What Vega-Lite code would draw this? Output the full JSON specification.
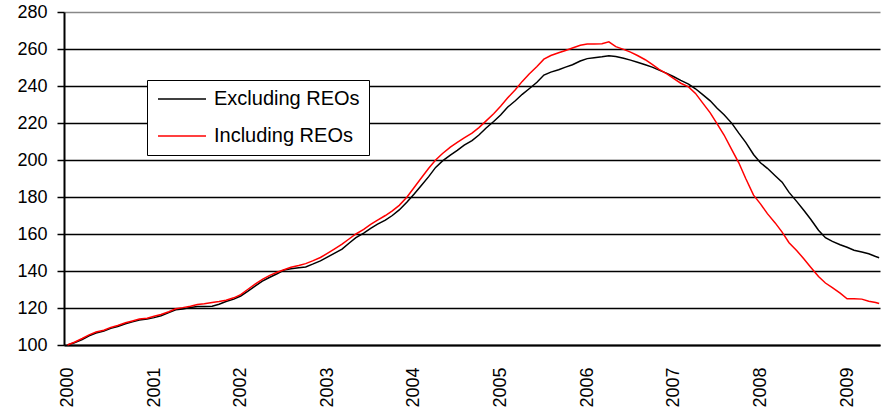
{
  "$schema": "https://vega.github.io/schema/vega-lite/v6.json",
  "width": 816,
  "height": 333,
  "autosize": {"type": "none"},
  "padding": {"left": 64, "top": 12, "right": 2, "bottom": 67},
  "background": "white",
  "config": {
    "view": {"stroke": null},
    "font": "Liberation Sans"
  },
  "data": {
    "values": [
      {"t": 2000.00, "ex": 100, "inc": 100},
      {"t": 2000.08, "ex": 101.2, "inc": 101.5},
      {"t": 2000.17, "ex": 103, "inc": 103.5},
      {"t": 2000.25, "ex": 105, "inc": 105.5},
      {"t": 2000.33, "ex": 106.5, "inc": 107},
      {"t": 2000.42, "ex": 107.5, "inc": 108},
      {"t": 2000.50, "ex": 109, "inc": 109.5},
      {"t": 2000.58, "ex": 110, "inc": 110.5},
      {"t": 2000.67, "ex": 111.5, "inc": 112},
      {"t": 2000.75, "ex": 112.5, "inc": 113},
      {"t": 2000.83, "ex": 113.5, "inc": 114},
      {"t": 2000.92, "ex": 114, "inc": 114.5},
      {"t": 2001.00, "ex": 114.8, "inc": 115.5},
      {"t": 2001.08, "ex": 115.8, "inc": 116.5},
      {"t": 2001.17, "ex": 117.5, "inc": 118},
      {"t": 2001.25, "ex": 119, "inc": 119.6},
      {"t": 2001.33, "ex": 119.5, "inc": 120.2},
      {"t": 2001.42, "ex": 120.3, "inc": 121},
      {"t": 2001.50, "ex": 120.8, "inc": 121.9},
      {"t": 2001.58, "ex": 120.8, "inc": 122.3},
      {"t": 2001.67, "ex": 121, "inc": 123},
      {"t": 2001.75, "ex": 122, "inc": 123.5},
      {"t": 2001.83, "ex": 123.5, "inc": 124.2},
      {"t": 2001.92, "ex": 124.8, "inc": 125.5},
      {"t": 2002.00, "ex": 126.5, "inc": 127.2},
      {"t": 2002.08, "ex": 129, "inc": 130},
      {"t": 2002.17, "ex": 132, "inc": 133},
      {"t": 2002.25, "ex": 134.5, "inc": 135.5},
      {"t": 2002.33, "ex": 136.5, "inc": 137.5},
      {"t": 2002.42, "ex": 138.5, "inc": 139.3},
      {"t": 2002.50, "ex": 140.5, "inc": 140.7},
      {"t": 2002.58, "ex": 141.2, "inc": 142},
      {"t": 2002.67, "ex": 141.7, "inc": 143},
      {"t": 2002.75, "ex": 142.2, "inc": 144},
      {"t": 2002.83, "ex": 143.7, "inc": 145.5},
      {"t": 2002.92, "ex": 145.5, "inc": 147.3},
      {"t": 2003.00, "ex": 147.5, "inc": 149.5},
      {"t": 2003.08, "ex": 149.5, "inc": 151.8},
      {"t": 2003.17, "ex": 151.8, "inc": 154.5},
      {"t": 2003.25, "ex": 155, "inc": 157.3},
      {"t": 2003.33, "ex": 158, "inc": 160},
      {"t": 2003.42, "ex": 160.5, "inc": 162.5},
      {"t": 2003.50, "ex": 163, "inc": 165.2},
      {"t": 2003.58, "ex": 165.3, "inc": 167.5},
      {"t": 2003.67, "ex": 167.5, "inc": 170},
      {"t": 2003.75, "ex": 170, "inc": 172.5},
      {"t": 2003.83, "ex": 173, "inc": 175.5},
      {"t": 2003.92, "ex": 177.3, "inc": 180},
      {"t": 2004.00, "ex": 181.5, "inc": 185},
      {"t": 2004.08, "ex": 186, "inc": 190},
      {"t": 2004.17, "ex": 191, "inc": 195.5},
      {"t": 2004.25, "ex": 196, "inc": 200},
      {"t": 2004.33, "ex": 199.5, "inc": 203.5},
      {"t": 2004.42, "ex": 202.6, "inc": 207},
      {"t": 2004.50, "ex": 205.2, "inc": 209.5},
      {"t": 2004.58, "ex": 208, "inc": 212},
      {"t": 2004.67, "ex": 210.5, "inc": 214.5},
      {"t": 2004.75, "ex": 213.5, "inc": 217.5},
      {"t": 2004.83, "ex": 217.2, "inc": 221},
      {"t": 2004.92, "ex": 220.8, "inc": 225},
      {"t": 2005.00, "ex": 224.3, "inc": 229},
      {"t": 2005.08, "ex": 228.5, "inc": 233.5},
      {"t": 2005.17, "ex": 232, "inc": 238},
      {"t": 2005.25, "ex": 235.5, "inc": 242.5},
      {"t": 2005.33, "ex": 238.5, "inc": 246.5},
      {"t": 2005.42, "ex": 242, "inc": 250.5},
      {"t": 2005.50, "ex": 245.9, "inc": 254.5},
      {"t": 2005.58, "ex": 247.5, "inc": 256.5},
      {"t": 2005.67, "ex": 248.8, "inc": 258},
      {"t": 2005.75, "ex": 250.2, "inc": 259.2},
      {"t": 2005.83, "ex": 251.5, "inc": 260.5},
      {"t": 2005.92, "ex": 253.5, "inc": 262},
      {"t": 2006.00, "ex": 254.8, "inc": 262.7},
      {"t": 2006.08, "ex": 255.3, "inc": 262.7},
      {"t": 2006.17, "ex": 255.8, "inc": 262.8},
      {"t": 2006.25, "ex": 256.4, "inc": 263.9},
      {"t": 2006.33, "ex": 255.9, "inc": 261.3},
      {"t": 2006.42, "ex": 255, "inc": 259.8},
      {"t": 2006.50, "ex": 254, "inc": 258.3},
      {"t": 2006.58, "ex": 252.8, "inc": 256.5},
      {"t": 2006.67, "ex": 251.5, "inc": 254.2},
      {"t": 2006.75, "ex": 250.2, "inc": 251.7},
      {"t": 2006.83, "ex": 248.6, "inc": 249},
      {"t": 2006.92, "ex": 246.8, "inc": 246.5},
      {"t": 2007.00, "ex": 245, "inc": 244},
      {"t": 2007.08, "ex": 243, "inc": 241.5},
      {"t": 2007.17, "ex": 241, "inc": 239.5},
      {"t": 2007.25, "ex": 238.5, "inc": 236},
      {"t": 2007.33, "ex": 235.5, "inc": 231},
      {"t": 2007.42, "ex": 232, "inc": 225.5},
      {"t": 2007.50, "ex": 228, "inc": 219.5},
      {"t": 2007.58, "ex": 224.5, "inc": 213.5},
      {"t": 2007.67, "ex": 219.8, "inc": 205.5},
      {"t": 2007.75, "ex": 214.5, "inc": 198.5},
      {"t": 2007.83, "ex": 209.5, "inc": 190},
      {"t": 2007.92, "ex": 203, "inc": 181},
      {"t": 2008.00, "ex": 198.5, "inc": 176.3},
      {"t": 2008.08, "ex": 195.5, "inc": 171},
      {"t": 2008.17, "ex": 191.5, "inc": 166},
      {"t": 2008.25, "ex": 188, "inc": 161},
      {"t": 2008.33, "ex": 182.5, "inc": 155.3},
      {"t": 2008.42, "ex": 177.5, "inc": 151},
      {"t": 2008.50, "ex": 172.8, "inc": 146.6},
      {"t": 2008.58, "ex": 168, "inc": 142},
      {"t": 2008.67, "ex": 162, "inc": 137},
      {"t": 2008.75, "ex": 158, "inc": 133.5},
      {"t": 2008.83, "ex": 156, "inc": 131},
      {"t": 2008.92, "ex": 154.2, "inc": 128},
      {"t": 2009.00, "ex": 152.8, "inc": 125},
      {"t": 2009.08, "ex": 151.2, "inc": 125},
      {"t": 2009.17, "ex": 150.3, "inc": 124.8},
      {"t": 2009.25, "ex": 149.3, "inc": 123.7},
      {"t": 2009.33, "ex": 147.8, "inc": 123},
      {"t": 2009.37, "ex": 147.2, "inc": 122.4}
    ]
  },
  "transform": [
    {"fold": ["ex", "inc"], "as": ["key", "value"]},
    {"lookup": "key", "from": {"data": {"values": [{"key": "ex", "series": "Excluding REOs"}, {"key": "inc", "series": "Including REOs"}]}, "key": "key", "fields": ["series"]}}
  ],
  "mark": {"type": "line", "strokeWidth": 1.5, "interpolate": "linear"},
  "encoding": {
    "x": {
      "field": "t",
      "type": "quantitative",
      "scale": {"domain": [1999.96, 2009.38], "nice": false, "zero": false},
      "axis": {
        "title": null,
        "values": [2000, 2001, 2002, 2003, 2004, 2005, 2006, 2007, 2008, 2009],
        "format": "d",
        "labelAngle": -90,
        "labelFontSize": 18,
        "labelColor": "black",
        "labelPadding": 22,
        "ticks": false,
        "tickSize": 0,
        "grid": false,
        "domainColor": "black",
        "domainWidth": 2,
        "labelFlush": false,
        "labelOverlap": false
      }
    },
    "y": {
      "field": "value",
      "type": "quantitative",
      "scale": {"domain": [100, 280], "nice": false, "zero": false},
      "axis": {
        "title": null,
        "values": [100, 120, 140, 160, 180, 200, 220, 240, 260, 280],
        "labelFontSize": 18,
        "labelColor": "black",
        "labelPadding": 10,
        "tickSize": 7,
        "tickColor": "black",
        "tickWidth": 1.5,
        "domainColor": "black",
        "domainWidth": 2,
        "grid": true,
        "gridColor": {"condition": {"test": "datum.value === 280", "value": "#888888"}, "value": "black"},
        "gridWidth": 1.6,
        "gridOpacity": 1,
        "labelFlush": false
      }
    },
    "color": {
      "field": "series",
      "type": "nominal",
      "scale": {"domain": ["Excluding REOs", "Including REOs"], "range": ["black", "#ff0000"]},
      "legend": {
        "title": null,
        "orient": "none",
        "legendX": 83,
        "legendY": 68,
        "direction": "vertical",
        "symbolType": "M-1,0H5",
        "symbolSize": 256,
        "symbolStrokeWidth": 1.5,
        "labelFontSize": 20,
        "labelColor": "black",
        "labelOffset": 38,
        "fillColor": "white",
        "strokeColor": "black",
        "padding": 9,
        "rowPadding": 17
      }
    }
  }
}
